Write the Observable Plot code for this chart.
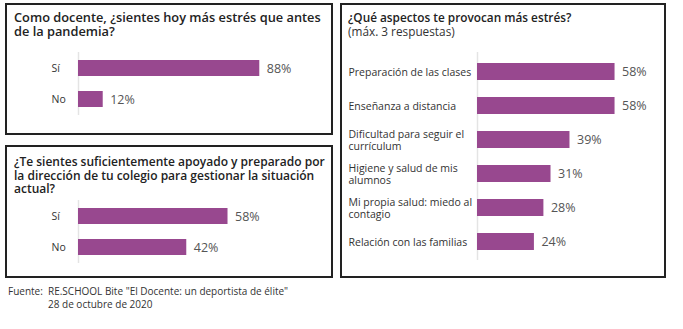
<!DOCTYPE html>
<html>
<head>
<meta charset="utf-8">
<script src="https://cdn.jsdelivr.net/npm/d3@7"></script>
<script src="https://cdn.jsdelivr.net/npm/@observablehq/plot@0.6"></script>
<style>
  html, body { margin: 0; padding: 0; background: #fff; }
  body { font-family: "Open Sans", sans-serif; }
  #wrap { position: relative; width: 683px; height: 329px; overflow: hidden; background: #fff; }
  .panel { position: absolute; border: 2px solid #222; box-sizing: border-box; }
  .title { position: absolute; font-size: 12px; font-weight: 600; line-height: 14px; color: #222; white-space: nowrap; }
  .sub { font-weight: 400; color: #333; }
  .plot { position: absolute; }
  #foot { position: absolute; left: 8px; top: 285px; font-size: 10px; line-height: 13px; color: #333; }
  #foot span { display: inline-block; width: 40px; }
</style>
</head>
<body>
<div id="wrap">
  <div class="panel" style="left:5px;top:3px;width:328px;height:132px"></div>
  <div class="panel" style="left:5px;top:145px;width:328px;height:133px"></div>
  <div class="panel" style="left:340px;top:3px;width:326px;height:275px"></div>
  <div class="title" style="left:14px;top:10px;font-size:12.8px">Como docente, ¿sientes hoy más estrés que antes<br>de la pandemia?</div>
  <div class="title" style="left:14px;top:155px;line-height:13.5px">¿Te sientes suficientemente apoyado y preparado por<br>la dirección de tu colegio para gestionar la situación<br>actual?</div>
  <div class="title" style="left:348px;top:10px;font-size:11.8px">¿Qué aspectos te provocan más estrés?<br><span class="sub">(máx. 3 respuestas)</span></div>
  <div id="foot"><span>Fuente:</span>RE.SCHOOL Bite "El Docente: un deportista de élite"<br><span></span>28 de octubre de 2020</div>
</div>
<script>
// Data
const q1Categories = ["Sí", "No"];
const q1Values = [88, 12];
const q2Categories = ["Sí", "No"];
const q2Values = [58, 42];
const q3Categories = ["Preparación de las clases", "Enseñanza a distancia", "Dificultad para seguir el currículum", "Higiene y salud de mis alumnos", "Mi propia salud: miedo al contagio", "Relación con las familias"];
const q3Labels = ["Preparación de las clases", "Enseñanza a distancia", "Dificultad para seguir el\ncurrículum", "Higiene y salud de mis\nalumnos", "Mi propia salud: miedo al\ncontagio", "Relación con las familias"];
const q3Values = [58, 58, 39, 31, 28, 24];

const BAR = "#98488f";
const wrap = document.getElementById("wrap");

function panel({cats, vals, labels, xMax, left, top, width, height, mTop, mBottom, mLeft, mRight, pOuter, labelDx, fontSize}) {
  const data = cats.map((c, i) => ({cat: c, value: vals[i]}));
  const labelMap = new Map(cats.map((c, i) => [c, labels ? labels[i] : c]));
  const chart = Plot.plot({
    width, height,
    marginTop: mTop, marginBottom: mBottom, marginLeft: mLeft, marginRight: mRight,
    style: {fontFamily: "Open Sans, sans-serif", background: "transparent", overflow: "visible"},
    x: {domain: [0, xMax], axis: null},
    y: {domain: cats, paddingInner: 0.5, paddingOuter: pOuter, axis: null, label: null},
    marks: [
      Plot.axisY({
        label: null, tickSize: 0, tickPadding: 0, textAnchor: "start", dx: labelDx,
        tickFormat: d => labelMap.get(d), fontSize, fill: "#333", lineHeight: 1.12
      }),
      Plot.ruleX([0], {stroke: "#e4e4e4", strokeWidth: 1.5}),
      Plot.barX(data, {x: "value", y: "cat", fill: BAR}),
      Plot.text(data, {x: "value", y: "cat", text: d => d.value + "%", textAnchor: "start", dx: 7, fontSize: 12.5, fill: "#555"})
    ]
  });
  chart.classList.add("plot");
  chart.style.left = left + "px";
  chart.style.top = top + "px";
  wrap.appendChild(chart);
}

panel({cats: q1Categories, vals: q1Values, xMax: 100, left: 7, top: 40, width: 324, height: 90,
  mTop: 12, mBottom: 15, mLeft: 71, mRight: 47, pOuter: 0.25, labelDx: -27, fontSize: 10.5});
panel({cats: q2Categories, vals: q2Values, xMax: 90, left: 7, top: 182, width: 324, height: 95,
  mTop: 18, mBottom: 14, mLeft: 71, mRight: 21, pOuter: 0.25, labelDx: -27, fontSize: 10.5});
panel({cats: q3Categories, vals: q3Values, labels: q3Labels, xMax: 70, left: 342, top: 40, width: 322, height: 230,
  mTop: 12, mBottom: 10, mLeft: 135, mRight: 21, pOuter: 0.27, labelDx: -129, fontSize: 10.5});
</script>
</body>
</html>
